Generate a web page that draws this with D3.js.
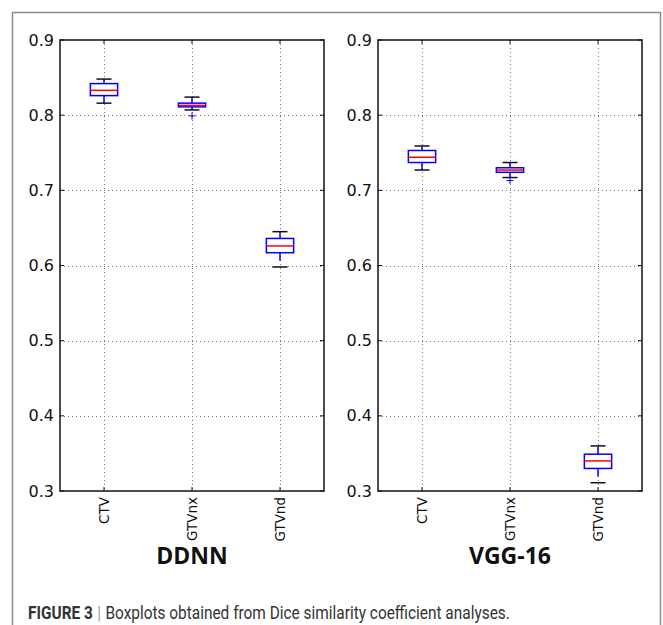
<!DOCTYPE html>
<html>
<head>
<meta charset="utf-8">
<script src="https://cdnjs.cloudflare.com/ajax/libs/d3/7.8.5/d3.min.js"></script>
<style>
  body { margin: 0; background: #fff; }
  svg { display: block; }
</style>
</head>
<body>
<svg class="chart"></svg>
<script>
var width = 663
var height = 625

// categories and tick values
var categories = ["CTV", "GTVnx", "GTVnd"]
var yTicks = [0.3, 0.4, 0.5, 0.6, 0.7, 0.8, 0.9]
var panelTitles = ["DDNN", "VGG-16"]

// box stats: [lowCap, q1, median, q3, highCap]
var ddnnStats = [
    [0.816, 0.826, 0.833, 0.842, 0.848],
    [0.807, 0.811, 0.813, 0.816, 0.824],
    [0.598, 0.617, 0.626, 0.636, 0.645]
]
var ddnnFliers = [[], [0.799], []]

var vggStats = [
    [0.727, 0.737, 0.744, 0.753, 0.759],
    [0.717, 0.724, 0.727, 0.730, 0.737],
    [0.311, 0.330, 0.340, 0.349, 0.360]
]
var vggFliers = [[], [0.713], []]

var svg = d3.select('.chart')
    .attr('width', width)
    .attr('height', height)

svg.append('rect')
    .attr('width', width).attr('height', height)
    .attr('fill', '#fff')

// grey frame around the figure (open at the bottom edge)
svg.append('rect')
    .attr('x', 12.5).attr('y', 12.5)
    .attr('width', 648).attr('height', 700)
    .attr('fill', 'none')
    .attr('stroke', '#8c8c8c')
    .attr('stroke-width', 1.5)

var plotTop = 40, plotBottom = 491
var panels = [
    { left: 60, right: 324, title: panelTitles[0], stats: ddnnStats, fliers: ddnnFliers },
    { left: 378, right: 642, title: panelTitles[1], stats: vggStats, fliers: vggFliers }
]

var y = d3.scaleLinear().domain([0.3, 0.9]).range([plotBottom, plotTop])

function drawPanel(p) {
    var x = d3.scalePoint()
        .domain(categories)
        .range([p.left, p.right])
        .padding(0.5)
    var step = x.step()
    var boxW = step * 0.31
    var capW = boxW * 0.55

    var g = svg.append('g')

    // dotted grid
    g.selectAll('.hgrid')
        .data(yTicks.slice(1, -1))
        .enter().append('line')
        .attr('x1', p.left).attr('x2', p.right)
        .attr('y1', d => Math.round(y(d)) + 0.5).attr('y2', d => Math.round(y(d)) + 0.5)
        .attr('stroke', '#777')
        .attr('stroke-width', 1)
        .attr('stroke-dasharray', '1,3')
    g.selectAll('.vgrid')
        .data(categories)
        .enter().append('line')
        .attr('x1', d => Math.round(x(d)) + 0.5).attr('x2', d => Math.round(x(d)) + 0.5)
        .attr('y1', plotTop).attr('y2', plotBottom)
        .attr('stroke', '#777')
        .attr('stroke-width', 1)
        .attr('stroke-dasharray', '1,3')

    // y axis labels
    var yAxis = d3.axisLeft(y).tickValues(yTicks).tickSize(0).tickPadding(6).tickFormat(d3.format('.1f'))
    var ya = g.append('g').attr('transform', 'translate(' + p.left + ',0)').call(yAxis)
    ya.select('.domain').remove()
    ya.selectAll('text')
        .attr('font-family', 'DejaVu Sans')
        .attr('font-size', 16)
        .attr('fill', '#111')

    // x axis labels, rotated
    g.selectAll('.xlab')
        .data(categories)
        .enter().append('text')
        .attr('transform', d => 'translate(' + x(d) + ',' + (plotBottom + 6) + ') rotate(-90)')
        .attr('text-anchor', 'end')
        .attr('dy', '0.35em')
        .attr('font-family', 'DejaVu Sans')
        .attr('font-size', 13.5)
        .attr('fill', '#111')
        .text(d => d)

    // boxes
    var box = g.selectAll('.box')
        .data(categories)
        .enter().append('g')
        .attr('transform', d => 'translate(' + x(d) + ',0)')

    box.append('line') // whisker down, dashed like old matplotlib
        .attr('x1', 0).attr('x2', 0)
        .attr('y1', (d, i) => y(p.stats[i][1])).attr('y2', (d, i) => y(p.stats[i][0]))
        .attr('stroke', '#00f').attr('stroke-width', 1.5)
        .attr('stroke-dasharray', '8,6')
    box.append('line') // whisker up
        .attr('x1', 0).attr('x2', 0)
        .attr('y1', (d, i) => y(p.stats[i][3])).attr('y2', (d, i) => y(p.stats[i][4]))
        .attr('stroke', '#00f').attr('stroke-width', 1.5)
        .attr('stroke-dasharray', '8,6')
    box.append('line') // caps
        .attr('x1', -capW / 2).attr('x2', capW / 2)
        .attr('y1', (d, i) => y(p.stats[i][0])).attr('y2', (d, i) => y(p.stats[i][0]))
        .attr('stroke', '#111').attr('stroke-width', 1.5)
    box.append('line')
        .attr('x1', -capW / 2).attr('x2', capW / 2)
        .attr('y1', (d, i) => y(p.stats[i][4])).attr('y2', (d, i) => y(p.stats[i][4]))
        .attr('stroke', '#111').attr('stroke-width', 1.5)
    box.append('rect')
        .attr('x', -boxW / 2).attr('width', boxW)
        .attr('y', (d, i) => y(p.stats[i][3]))
        .attr('height', (d, i) => y(p.stats[i][1]) - y(p.stats[i][3]))
        .attr('fill', '#fff')
        .attr('stroke', '#00f').attr('stroke-width', 1.5)
    box.append('line') // median
        .attr('x1', -boxW / 2).attr('x2', boxW / 2)
        .attr('y1', (d, i) => y(p.stats[i][2])).attr('y2', (d, i) => y(p.stats[i][2]))
        .attr('stroke', '#f00').attr('stroke-width', 1.5)

    // fliers as blue '+'
    box.each(function(d, i) {
        d3.select(this).selectAll('.flier').data(p.fliers[i]).enter().append('path')
            .attr('d', v => 'M-3.5,' + y(v) + 'H3.5M0,' + (y(v) - 3.5) + 'V' + (y(v) + 3.5))
            .attr('stroke', '#00f').attr('stroke-width', 1)
            .attr('fill', 'none')
    })

    // small inward ticks like matplotlib
    g.selectAll('.ytick')
        .data(yTicks)
        .enter().append('path')
        .attr('d', d => 'M' + p.left + ',' + y(d) + 'h4M' + p.right + ',' + y(d) + 'h-4')
        .attr('stroke', '#111')
    g.selectAll('.xtick')
        .data(categories)
        .enter().append('path')
        .attr('d', d => 'M' + x(d) + ',' + plotBottom + 'v-4M' + x(d) + ',' + plotTop + 'v4')
        .attr('stroke', '#111')

    // axes frame
    g.append('rect')
        .attr('x', p.left).attr('y', plotTop)
        .attr('width', p.right - p.left).attr('height', plotBottom - plotTop)
        .attr('fill', 'none')
        .attr('stroke', '#111')
        .attr('stroke-width', 1.5)

    g.append('text')
        .attr('x', (p.left + p.right) / 2)
        .attr('y', 564)
        .attr('text-anchor', 'middle')
        .attr('font-family', 'Open Sans')
        .attr('font-weight', 'bold')
        .attr('font-size', 23)
        .attr('fill', '#111')
        .text(p.title)
}

panels.forEach(drawPanel)

// caption: three pieces laid out one after another, then squeezed to the reference width
var capParts = [
    { text: 'FIGURE 3', weight: 'bold', fill: '#333' },
    { text: '|', weight: 'normal', fill: '#999' },
    { text: 'Boxplots obtained from Dice similarity coefficient analyses.', weight: 'normal', fill: '#333' }
]
var capG = svg.append('g')
var cx = 0
capParts.forEach(function(c) {
    var t = capG.append('text')
        .attr('x', cx)
        .attr('y', 0)
        .attr('font-family', 'Roboto')
        .attr('font-size', 17.5)
        .attr('font-weight', c.weight)
        .attr('fill', c.fill)
        .text(c.text)
    cx += t.node().getComputedTextLength() + 5
})
var sx = 482 / (cx - 5)
capG.attr('transform', 'translate(28,619) scale(' + sx + ',1)')
</script>
</body>
</html>
